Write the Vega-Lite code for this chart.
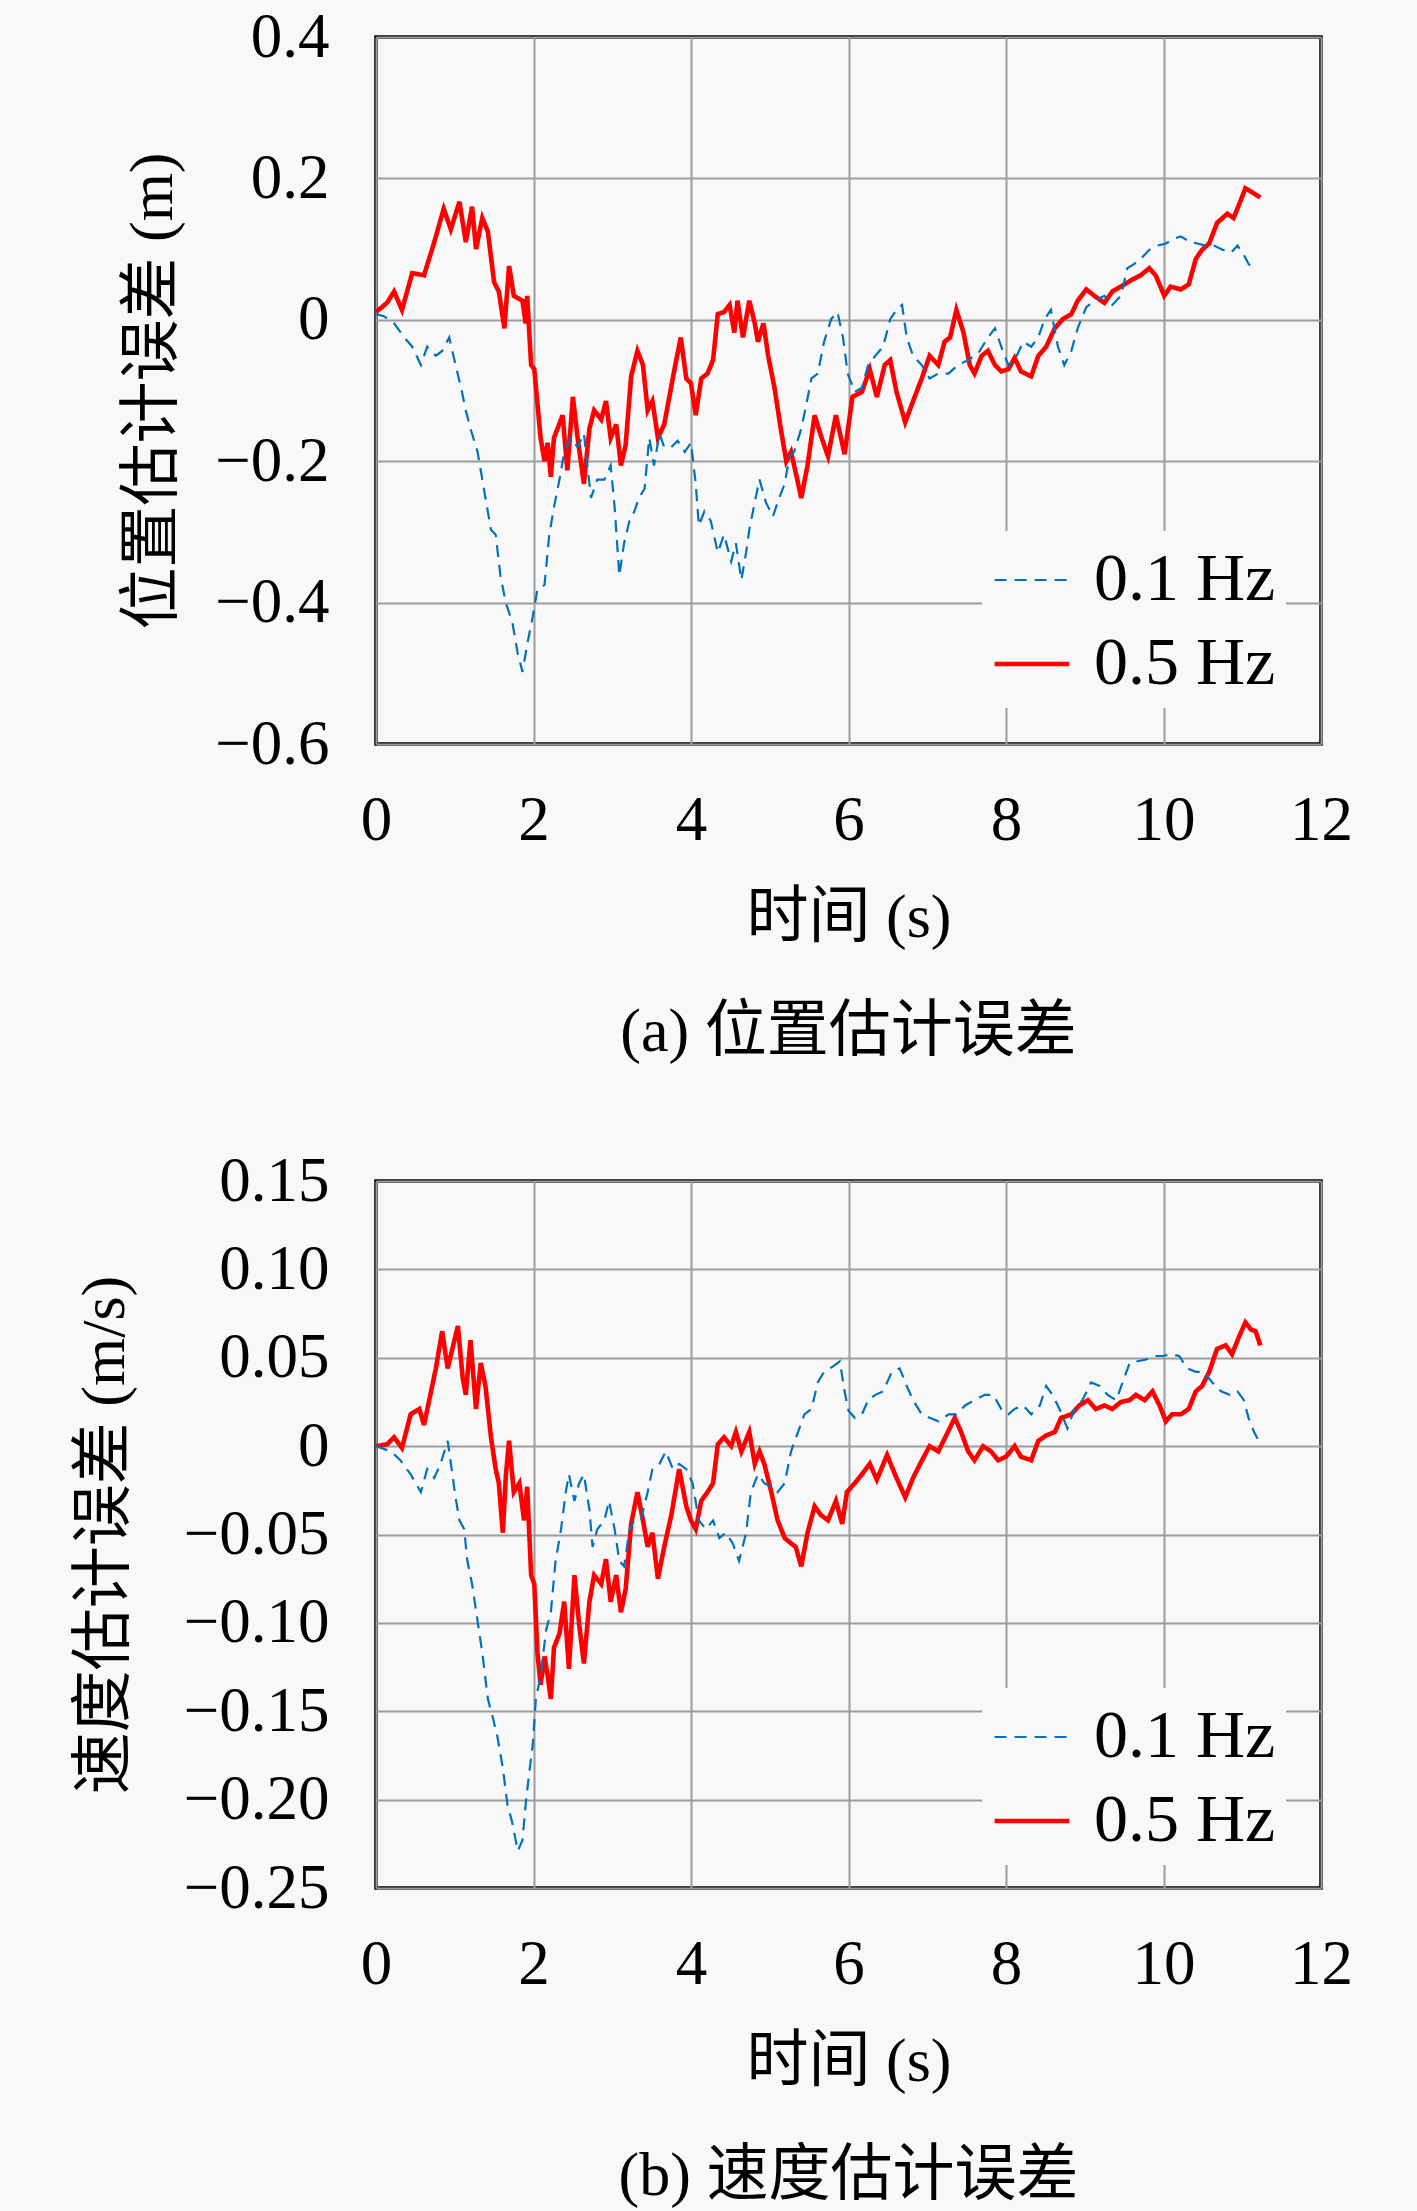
{
  "$schema": "https://vega.github.io/schema/vega-lite/v6.json",
  "background": "#f8f8f8",
  "padding": {"left": 71, "top": 4, "right": 66, "bottom": 8},
  "spacing": 437,
  "bounds": "flush",
  "config": {
    "view": {"stroke": "black", "strokeWidth": 3.5, "fill": "#f8f8f8"},
    "axis": {
      "grid": true, "gridColor": "#9c9c9c", "gridWidth": 2,
      "domain": false, "ticks": false, "labelFlush": false,
      "labelFont": "Liberation Serif", "labelFontSize": 63, "labelColor": "black",
      "titleFont": "Liberation Serif, Noto Sans CJK SC", "titleFontSize": 62,
      "titleFontWeight": "normal", "titleColor": "black"
    },
    "title": {"font": "Liberation Serif, Noto Sans CJK SC", "fontSize": 62, "fontWeight": "normal", "color": "black"},
    "legend": {
      "title": null, "orient": "none", "fillColor": "#f8f8f8",
      "symbolType": "stroke", "symbolSize": 5600, "labelFont": "Liberation Serif",
      "labelFontSize": 68, "labelColor": "black", "labelOffset": 22, "labelLimit": 400,
      "rowPadding": 10, "padding": 10
    }
  },
  "datasets": {
    "pos": [
      {"series": "0.5 Hz", "t": 0, "err": 0.011}, {"series": "0.5 Hz", "t": 0.14, "err": 0.024}, {"series": "0.5 Hz", "t": 0.23, "err": 0.04}, {"series": "0.5 Hz", "t": 0.33, "err": 0.014},
      {"series": "0.5 Hz", "t": 0.46, "err": 0.066}, {"series": "0.5 Hz", "t": 0.61, "err": 0.063}, {"series": "0.5 Hz", "t": 0.74, "err": 0.11}, {"series": "0.5 Hz", "t": 0.86, "err": 0.157},
      {"series": "0.5 Hz", "t": 0.95, "err": 0.128}, {"series": "0.5 Hz", "t": 1.06, "err": 0.167}, {"series": "0.5 Hz", "t": 1.14, "err": 0.11}, {"series": "0.5 Hz", "t": 1.22, "err": 0.16},
      {"series": "0.5 Hz", "t": 1.27, "err": 0.1}, {"series": "0.5 Hz", "t": 1.35, "err": 0.144}, {"series": "0.5 Hz", "t": 1.42, "err": 0.125}, {"series": "0.5 Hz", "t": 1.5, "err": 0.053},
      {"series": "0.5 Hz", "t": 1.56, "err": 0.04}, {"series": "0.5 Hz", "t": 1.63, "err": -0.012}, {"series": "0.5 Hz", "t": 1.69, "err": 0.076}, {"series": "0.5 Hz", "t": 1.75, "err": 0.034},
      {"series": "0.5 Hz", "t": 1.86, "err": 0.027}, {"series": "0.5 Hz", "t": 1.9, "err": -0.005}, {"series": "0.5 Hz", "t": 1.92, "err": 0.034}, {"series": "0.5 Hz", "t": 1.97, "err": -0.064},
      {"series": "0.5 Hz", "t": 2.01, "err": -0.07}, {"series": "0.5 Hz", "t": 2.09, "err": -0.167}, {"series": "0.5 Hz", "t": 2.14, "err": -0.2}, {"series": "0.5 Hz", "t": 2.18, "err": -0.174},
      {"series": "0.5 Hz", "t": 2.22, "err": -0.222}, {"series": "0.5 Hz", "t": 2.26, "err": -0.167}, {"series": "0.5 Hz", "t": 2.37, "err": -0.135}, {"series": "0.5 Hz", "t": 2.43, "err": -0.213},
      {"series": "0.5 Hz", "t": 2.5, "err": -0.109}, {"series": "0.5 Hz", "t": 2.56, "err": -0.167}, {"series": "0.5 Hz", "t": 2.64, "err": -0.232}, {"series": "0.5 Hz", "t": 2.71, "err": -0.154},
      {"series": "0.5 Hz", "t": 2.77, "err": -0.128}, {"series": "0.5 Hz", "t": 2.86, "err": -0.141}, {"series": "0.5 Hz", "t": 2.92, "err": -0.115}, {"series": "0.5 Hz", "t": 2.98, "err": -0.167},
      {"series": "0.5 Hz", "t": 3.05, "err": -0.148}, {"series": "0.5 Hz", "t": 3.11, "err": -0.206}, {"series": "0.5 Hz", "t": 3.17, "err": -0.177}, {"series": "0.5 Hz", "t": 3.24, "err": -0.08},
      {"series": "0.5 Hz", "t": 3.32, "err": -0.044}, {"series": "0.5 Hz", "t": 3.39, "err": -0.064}, {"series": "0.5 Hz", "t": 3.45, "err": -0.128}, {"series": "0.5 Hz", "t": 3.51, "err": -0.115},
      {"series": "0.5 Hz", "t": 3.58, "err": -0.167}, {"series": "0.5 Hz", "t": 3.66, "err": -0.148}, {"series": "0.5 Hz", "t": 3.79, "err": -0.07}, {"series": "0.5 Hz", "t": 3.87, "err": -0.025},
      {"series": "0.5 Hz", "t": 3.94, "err": -0.083}, {"series": "0.5 Hz", "t": 4.0, "err": -0.09}, {"series": "0.5 Hz", "t": 4.06, "err": -0.135}, {"series": "0.5 Hz", "t": 4.13, "err": -0.083},
      {"series": "0.5 Hz", "t": 4.21, "err": -0.076}, {"series": "0.5 Hz", "t": 4.28, "err": -0.057}, {"series": "0.5 Hz", "t": 4.34, "err": 0.008}, {"series": "0.5 Hz", "t": 4.42, "err": 0.011},
      {"series": "0.5 Hz", "t": 4.49, "err": 0.021}, {"series": "0.5 Hz", "t": 4.55, "err": -0.018}, {"series": "0.5 Hz", "t": 4.59, "err": 0.027}, {"series": "0.5 Hz", "t": 4.66, "err": -0.025},
      {"series": "0.5 Hz", "t": 4.74, "err": 0.027}, {"series": "0.5 Hz", "t": 4.81, "err": -0.005}, {"series": "0.5 Hz", "t": 4.85, "err": -0.031}, {"series": "0.5 Hz", "t": 4.92, "err": -0.005},
      {"series": "0.5 Hz", "t": 4.98, "err": -0.051}, {"series": "0.5 Hz", "t": 5.06, "err": -0.096}, {"series": "0.5 Hz", "t": 5.14, "err": -0.154}, {"series": "0.5 Hz", "t": 5.21, "err": -0.2},
      {"series": "0.5 Hz", "t": 5.27, "err": -0.187}, {"series": "0.5 Hz", "t": 5.33, "err": -0.216}, {"series": "0.5 Hz", "t": 5.4, "err": -0.252}, {"series": "0.5 Hz", "t": 5.48, "err": -0.206},
      {"series": "0.5 Hz", "t": 5.57, "err": -0.135}, {"series": "0.5 Hz", "t": 5.65, "err": -0.164}, {"series": "0.5 Hz", "t": 5.74, "err": -0.193}, {"series": "0.5 Hz", "t": 5.84, "err": -0.135},
      {"series": "0.5 Hz", "t": 5.95, "err": -0.19}, {"series": "0.5 Hz", "t": 6.05, "err": -0.109}, {"series": "0.5 Hz", "t": 6.17, "err": -0.102}, {"series": "0.5 Hz", "t": 6.27, "err": -0.07},
      {"series": "0.5 Hz", "t": 6.36, "err": -0.109}, {"series": "0.5 Hz", "t": 6.46, "err": -0.064}, {"series": "0.5 Hz", "t": 6.53, "err": -0.057}, {"series": "0.5 Hz", "t": 6.61, "err": -0.102},
      {"series": "0.5 Hz", "t": 6.72, "err": -0.145}, {"series": "0.5 Hz", "t": 6.82, "err": -0.115}, {"series": "0.5 Hz", "t": 6.93, "err": -0.083}, {"series": "0.5 Hz", "t": 7.03, "err": -0.051},
      {"series": "0.5 Hz", "t": 7.14, "err": -0.064}, {"series": "0.5 Hz", "t": 7.22, "err": -0.031}, {"series": "0.5 Hz", "t": 7.29, "err": -0.025}, {"series": "0.5 Hz", "t": 7.37, "err": 0.014},
      {"series": "0.5 Hz", "t": 7.46, "err": -0.018}, {"series": "0.5 Hz", "t": 7.54, "err": -0.064}, {"series": "0.5 Hz", "t": 7.6, "err": -0.076}, {"series": "0.5 Hz", "t": 7.69, "err": -0.051},
      {"series": "0.5 Hz", "t": 7.77, "err": -0.044}, {"series": "0.5 Hz", "t": 7.86, "err": -0.064}, {"series": "0.5 Hz", "t": 7.94, "err": -0.073}, {"series": "0.5 Hz", "t": 8.03, "err": -0.07},
      {"series": "0.5 Hz", "t": 8.11, "err": -0.054}, {"series": "0.5 Hz", "t": 8.19, "err": -0.073}, {"series": "0.5 Hz", "t": 8.32, "err": -0.08}, {"series": "0.5 Hz", "t": 8.41, "err": -0.051},
      {"series": "0.5 Hz", "t": 8.51, "err": -0.038}, {"series": "0.5 Hz", "t": 8.62, "err": -0.012}, {"series": "0.5 Hz", "t": 8.72, "err": 0.001}, {"series": "0.5 Hz", "t": 8.83, "err": 0.008},
      {"series": "0.5 Hz", "t": 8.91, "err": 0.027}, {"series": "0.5 Hz", "t": 9.02, "err": 0.043}, {"series": "0.5 Hz", "t": 9.12, "err": 0.034}, {"series": "0.5 Hz", "t": 9.25, "err": 0.024},
      {"series": "0.5 Hz", "t": 9.35, "err": 0.04}, {"series": "0.5 Hz", "t": 9.46, "err": 0.047}, {"series": "0.5 Hz", "t": 9.59, "err": 0.056}, {"series": "0.5 Hz", "t": 9.71, "err": 0.063},
      {"series": "0.5 Hz", "t": 9.82, "err": 0.073}, {"series": "0.5 Hz", "t": 9.9, "err": 0.063}, {"series": "0.5 Hz", "t": 10.01, "err": 0.034}, {"series": "0.5 Hz", "t": 10.09, "err": 0.047},
      {"series": "0.5 Hz", "t": 10.22, "err": 0.043}, {"series": "0.5 Hz", "t": 10.32, "err": 0.05}, {"series": "0.5 Hz", "t": 10.41, "err": 0.086}, {"series": "0.5 Hz", "t": 10.49, "err": 0.099},
      {"series": "0.5 Hz", "t": 10.58, "err": 0.108}, {"series": "0.5 Hz", "t": 10.68, "err": 0.137}, {"series": "0.5 Hz", "t": 10.81, "err": 0.15}, {"series": "0.5 Hz", "t": 10.89, "err": 0.144},
      {"series": "0.5 Hz", "t": 10.96, "err": 0.163}, {"series": "0.5 Hz", "t": 11.04, "err": 0.186}, {"series": "0.5 Hz", "t": 11.13, "err": 0.18}, {"series": "0.5 Hz", "t": 11.23, "err": 0.173},
      {"series": "0.1 Hz", "t": 0, "err": 0.008}, {"series": "0.1 Hz", "t": 0.1, "err": 0.005}, {"series": "0.1 Hz", "t": 0.23, "err": -0.005}, {"series": "0.1 Hz", "t": 0.36, "err": -0.025},
      {"series": "0.1 Hz", "t": 0.46, "err": -0.038}, {"series": "0.1 Hz", "t": 0.57, "err": -0.064}, {"series": "0.1 Hz", "t": 0.65, "err": -0.038}, {"series": "0.1 Hz", "t": 0.76, "err": -0.051},
      {"series": "0.1 Hz", "t": 0.84, "err": -0.044}, {"series": "0.1 Hz", "t": 0.93, "err": -0.025}, {"series": "0.1 Hz", "t": 1.01, "err": -0.064}, {"series": "0.1 Hz", "t": 1.08, "err": -0.096},
      {"series": "0.1 Hz", "t": 1.14, "err": -0.128}, {"series": "0.1 Hz", "t": 1.2, "err": -0.154}, {"series": "0.1 Hz", "t": 1.29, "err": -0.187}, {"series": "0.1 Hz", "t": 1.35, "err": -0.226},
      {"series": "0.1 Hz", "t": 1.39, "err": -0.252}, {"series": "0.1 Hz", "t": 1.46, "err": -0.297}, {"series": "0.1 Hz", "t": 1.52, "err": -0.304}, {"series": "0.1 Hz", "t": 1.58, "err": -0.362},
      {"series": "0.1 Hz", "t": 1.65, "err": -0.401}, {"series": "0.1 Hz", "t": 1.73, "err": -0.427}, {"series": "0.1 Hz", "t": 1.8, "err": -0.472}, {"series": "0.1 Hz", "t": 1.86, "err": -0.498},
      {"series": "0.1 Hz", "t": 1.92, "err": -0.459}, {"series": "0.1 Hz", "t": 1.99, "err": -0.42}, {"series": "0.1 Hz", "t": 2.05, "err": -0.381}, {"series": "0.1 Hz", "t": 2.14, "err": -0.375},
      {"series": "0.1 Hz", "t": 2.2, "err": -0.304}, {"series": "0.1 Hz", "t": 2.26, "err": -0.265}, {"series": "0.1 Hz", "t": 2.33, "err": -0.226}, {"series": "0.1 Hz", "t": 2.39, "err": -0.187},
      {"series": "0.1 Hz", "t": 2.47, "err": -0.167}, {"series": "0.1 Hz", "t": 2.56, "err": -0.18}, {"series": "0.1 Hz", "t": 2.64, "err": -0.161}, {"series": "0.1 Hz", "t": 2.73, "err": -0.252},
      {"series": "0.1 Hz", "t": 2.81, "err": -0.226}, {"series": "0.1 Hz", "t": 2.9, "err": -0.226}, {"series": "0.1 Hz", "t": 2.98, "err": -0.206}, {"series": "0.1 Hz", "t": 3.03, "err": -0.265},
      {"series": "0.1 Hz", "t": 3.09, "err": -0.362}, {"series": "0.1 Hz", "t": 3.15, "err": -0.316}, {"series": "0.1 Hz", "t": 3.22, "err": -0.284}, {"series": "0.1 Hz", "t": 3.28, "err": -0.271},
      {"series": "0.1 Hz", "t": 3.34, "err": -0.252}, {"series": "0.1 Hz", "t": 3.41, "err": -0.239}, {"series": "0.1 Hz", "t": 3.47, "err": -0.167}, {"series": "0.1 Hz", "t": 3.53, "err": -0.206},
      {"series": "0.1 Hz", "t": 3.6, "err": -0.161}, {"series": "0.1 Hz", "t": 3.66, "err": -0.18}, {"series": "0.1 Hz", "t": 3.75, "err": -0.18}, {"series": "0.1 Hz", "t": 3.83, "err": -0.171},
      {"series": "0.1 Hz", "t": 3.92, "err": -0.187}, {"series": "0.1 Hz", "t": 4.0, "err": -0.174}, {"series": "0.1 Hz", "t": 4.06, "err": -0.232}, {"series": "0.1 Hz", "t": 4.1, "err": -0.291},
      {"series": "0.1 Hz", "t": 4.17, "err": -0.271}, {"series": "0.1 Hz", "t": 4.25, "err": -0.284}, {"series": "0.1 Hz", "t": 4.34, "err": -0.329}, {"series": "0.1 Hz", "t": 4.42, "err": -0.304},
      {"series": "0.1 Hz", "t": 4.51, "err": -0.342}, {"series": "0.1 Hz", "t": 4.57, "err": -0.316}, {"series": "0.1 Hz", "t": 4.64, "err": -0.368}, {"series": "0.1 Hz", "t": 4.7, "err": -0.329},
      {"series": "0.1 Hz", "t": 4.74, "err": -0.297}, {"series": "0.1 Hz", "t": 4.81, "err": -0.258}, {"series": "0.1 Hz", "t": 4.87, "err": -0.226}, {"series": "0.1 Hz", "t": 4.95, "err": -0.258},
      {"series": "0.1 Hz", "t": 5.04, "err": -0.278}, {"series": "0.1 Hz", "t": 5.12, "err": -0.252}, {"series": "0.1 Hz", "t": 5.19, "err": -0.232}, {"series": "0.1 Hz", "t": 5.25, "err": -0.193},
      {"series": "0.1 Hz", "t": 5.31, "err": -0.187}, {"series": "0.1 Hz", "t": 5.4, "err": -0.154}, {"series": "0.1 Hz", "t": 5.46, "err": -0.122}, {"series": "0.1 Hz", "t": 5.53, "err": -0.083},
      {"series": "0.1 Hz", "t": 5.61, "err": -0.076}, {"series": "0.1 Hz", "t": 5.69, "err": -0.031}, {"series": "0.1 Hz", "t": 5.78, "err": 0.001}, {"series": "0.1 Hz", "t": 5.86, "err": 0.011},
      {"series": "0.1 Hz", "t": 5.93, "err": -0.025}, {"series": "0.1 Hz", "t": 5.99, "err": -0.076}, {"series": "0.1 Hz", "t": 6.08, "err": -0.102}, {"series": "0.1 Hz", "t": 6.17, "err": -0.096},
      {"series": "0.1 Hz", "t": 6.25, "err": -0.064}, {"series": "0.1 Hz", "t": 6.34, "err": -0.051}, {"series": "0.1 Hz", "t": 6.44, "err": -0.038}, {"series": "0.1 Hz", "t": 6.53, "err": 0.001},
      {"series": "0.1 Hz", "t": 6.61, "err": 0.014}, {"series": "0.1 Hz", "t": 6.68, "err": 0.021}, {"series": "0.1 Hz", "t": 6.74, "err": -0.025}, {"series": "0.1 Hz", "t": 6.82, "err": -0.051},
      {"series": "0.1 Hz", "t": 6.93, "err": -0.064}, {"series": "0.1 Hz", "t": 7.03, "err": -0.083}, {"series": "0.1 Hz", "t": 7.14, "err": -0.076}, {"series": "0.1 Hz", "t": 7.27, "err": -0.076},
      {"series": "0.1 Hz", "t": 7.39, "err": -0.064}, {"series": "0.1 Hz", "t": 7.52, "err": -0.057}, {"series": "0.1 Hz", "t": 7.65, "err": -0.047}, {"series": "0.1 Hz", "t": 7.77, "err": -0.025},
      {"series": "0.1 Hz", "t": 7.86, "err": -0.012}, {"series": "0.1 Hz", "t": 7.94, "err": -0.038}, {"series": "0.1 Hz", "t": 8.03, "err": -0.064}, {"series": "0.1 Hz", "t": 8.11, "err": -0.057},
      {"series": "0.1 Hz", "t": 8.22, "err": -0.031}, {"series": "0.1 Hz", "t": 8.32, "err": -0.038}, {"series": "0.1 Hz", "t": 8.41, "err": -0.025}, {"series": "0.1 Hz", "t": 8.49, "err": 0.001},
      {"series": "0.1 Hz", "t": 8.57, "err": 0.014}, {"series": "0.1 Hz", "t": 8.66, "err": -0.038}, {"series": "0.1 Hz", "t": 8.74, "err": -0.064}, {"series": "0.1 Hz", "t": 8.83, "err": -0.044},
      {"series": "0.1 Hz", "t": 8.91, "err": -0.012}, {"series": "0.1 Hz", "t": 9.02, "err": 0.018}, {"series": "0.1 Hz", "t": 9.12, "err": 0.027}, {"series": "0.1 Hz", "t": 9.25, "err": 0.034},
      {"series": "0.1 Hz", "t": 9.35, "err": 0.021}, {"series": "0.1 Hz", "t": 9.46, "err": 0.034}, {"series": "0.1 Hz", "t": 9.54, "err": 0.073}, {"series": "0.1 Hz", "t": 9.63, "err": 0.079},
      {"series": "0.1 Hz", "t": 9.71, "err": 0.086}, {"series": "0.1 Hz", "t": 9.82, "err": 0.099}, {"series": "0.1 Hz", "t": 9.92, "err": 0.105}, {"series": "0.1 Hz", "t": 10.03, "err": 0.108},
      {"series": "0.1 Hz", "t": 10.14, "err": 0.115}, {"series": "0.1 Hz", "t": 10.22, "err": 0.118}, {"series": "0.1 Hz", "t": 10.32, "err": 0.111}, {"series": "0.1 Hz", "t": 10.43, "err": 0.108},
      {"series": "0.1 Hz", "t": 10.53, "err": 0.105}, {"series": "0.1 Hz", "t": 10.64, "err": 0.105}, {"series": "0.1 Hz", "t": 10.75, "err": 0.099}, {"series": "0.1 Hz", "t": 10.86, "err": 0.095},
      {"series": "0.1 Hz", "t": 10.94, "err": 0.105}, {"series": "0.1 Hz", "t": 11.02, "err": 0.092}, {"series": "0.1 Hz", "t": 11.08, "err": 0.079}, {"series": "0.1 Hz", "t": 11.17, "err": 0.069}
    ],
    "vel": [
      {"series": "0.5 Hz", "t": 0, "err": 0}, {"series": "0.5 Hz", "t": 0.14, "err": 0.001}, {"series": "0.5 Hz", "t": 0.23, "err": 0.005}, {"series": "0.5 Hz", "t": 0.33, "err": -0.001},
      {"series": "0.5 Hz", "t": 0.44, "err": 0.018}, {"series": "0.5 Hz", "t": 0.55, "err": 0.021}, {"series": "0.5 Hz", "t": 0.61, "err": 0.012}, {"series": "0.5 Hz", "t": 0.69, "err": 0.029},
      {"series": "0.5 Hz", "t": 0.76, "err": 0.044}, {"series": "0.5 Hz", "t": 0.84, "err": 0.065}, {"series": "0.5 Hz", "t": 0.91, "err": 0.044}, {"series": "0.5 Hz", "t": 0.97, "err": 0.055},
      {"series": "0.5 Hz", "t": 1.04, "err": 0.068}, {"series": "0.5 Hz", "t": 1.1, "err": 0.039}, {"series": "0.5 Hz", "t": 1.14, "err": 0.029}, {"series": "0.5 Hz", "t": 1.2, "err": 0.06},
      {"series": "0.5 Hz", "t": 1.27, "err": 0.021}, {"series": "0.5 Hz", "t": 1.33, "err": 0.047}, {"series": "0.5 Hz", "t": 1.39, "err": 0.034}, {"series": "0.5 Hz", "t": 1.46, "err": 0.005},
      {"series": "0.5 Hz", "t": 1.52, "err": -0.013}, {"series": "0.5 Hz", "t": 1.56, "err": -0.021}, {"series": "0.5 Hz", "t": 1.61, "err": -0.049}, {"series": "0.5 Hz", "t": 1.65, "err": -0.016},
      {"series": "0.5 Hz", "t": 1.69, "err": 0.003}, {"series": "0.5 Hz", "t": 1.75, "err": -0.026}, {"series": "0.5 Hz", "t": 1.82, "err": -0.021}, {"series": "0.5 Hz", "t": 1.88, "err": -0.042},
      {"series": "0.5 Hz", "t": 1.92, "err": -0.023}, {"series": "0.5 Hz", "t": 1.97, "err": -0.073}, {"series": "0.5 Hz", "t": 2.01, "err": -0.078}, {"series": "0.5 Hz", "t": 2.05, "err": -0.117},
      {"series": "0.5 Hz", "t": 2.09, "err": -0.135}, {"series": "0.5 Hz", "t": 2.14, "err": -0.119}, {"series": "0.5 Hz", "t": 2.18, "err": -0.13}, {"series": "0.5 Hz", "t": 2.22, "err": -0.143},
      {"series": "0.5 Hz", "t": 2.26, "err": -0.114}, {"series": "0.5 Hz", "t": 2.33, "err": -0.106}, {"series": "0.5 Hz", "t": 2.39, "err": -0.088}, {"series": "0.5 Hz", "t": 2.45, "err": -0.126},
      {"series": "0.5 Hz", "t": 2.52, "err": -0.073}, {"series": "0.5 Hz", "t": 2.58, "err": -0.101}, {"series": "0.5 Hz", "t": 2.64, "err": -0.123}, {"series": "0.5 Hz", "t": 2.71, "err": -0.088},
      {"series": "0.5 Hz", "t": 2.77, "err": -0.073}, {"series": "0.5 Hz", "t": 2.86, "err": -0.078}, {"series": "0.5 Hz", "t": 2.92, "err": -0.064}, {"series": "0.5 Hz", "t": 2.98, "err": -0.088},
      {"series": "0.5 Hz", "t": 3.05, "err": -0.073}, {"series": "0.5 Hz", "t": 3.11, "err": -0.094}, {"series": "0.5 Hz", "t": 3.17, "err": -0.081}, {"series": "0.5 Hz", "t": 3.24, "err": -0.044},
      {"series": "0.5 Hz", "t": 3.32, "err": -0.026}, {"series": "0.5 Hz", "t": 3.39, "err": -0.042}, {"series": "0.5 Hz", "t": 3.45, "err": -0.057}, {"series": "0.5 Hz", "t": 3.51, "err": -0.049},
      {"series": "0.5 Hz", "t": 3.58, "err": -0.075}, {"series": "0.5 Hz", "t": 3.66, "err": -0.057}, {"series": "0.5 Hz", "t": 3.75, "err": -0.039}, {"series": "0.5 Hz", "t": 3.85, "err": -0.013},
      {"series": "0.5 Hz", "t": 3.94, "err": -0.034}, {"series": "0.5 Hz", "t": 4.0, "err": -0.042}, {"series": "0.5 Hz", "t": 4.06, "err": -0.047}, {"series": "0.5 Hz", "t": 4.13, "err": -0.031},
      {"series": "0.5 Hz", "t": 4.21, "err": -0.026}, {"series": "0.5 Hz", "t": 4.28, "err": -0.021}, {"series": "0.5 Hz", "t": 4.34, "err": 0.001}, {"series": "0.5 Hz", "t": 4.42, "err": 0.005},
      {"series": "0.5 Hz", "t": 4.51, "err": 0}, {"series": "0.5 Hz", "t": 4.57, "err": 0.008}, {"series": "0.5 Hz", "t": 4.64, "err": -0.003}, {"series": "0.5 Hz", "t": 4.74, "err": 0.008},
      {"series": "0.5 Hz", "t": 4.81, "err": -0.01}, {"series": "0.5 Hz", "t": 4.87, "err": -0.003}, {"series": "0.5 Hz", "t": 4.93, "err": -0.01}, {"series": "0.5 Hz", "t": 5.02, "err": -0.026},
      {"series": "0.5 Hz", "t": 5.1, "err": -0.042}, {"series": "0.5 Hz", "t": 5.19, "err": -0.052}, {"series": "0.5 Hz", "t": 5.27, "err": -0.055}, {"series": "0.5 Hz", "t": 5.33, "err": -0.057},
      {"series": "0.5 Hz", "t": 5.4, "err": -0.068}, {"series": "0.5 Hz", "t": 5.48, "err": -0.049}, {"series": "0.5 Hz", "t": 5.57, "err": -0.034}, {"series": "0.5 Hz", "t": 5.65, "err": -0.039},
      {"series": "0.5 Hz", "t": 5.74, "err": -0.042}, {"series": "0.5 Hz", "t": 5.84, "err": -0.031}, {"series": "0.5 Hz", "t": 5.92, "err": -0.044}, {"series": "0.5 Hz", "t": 5.98, "err": -0.026},
      {"series": "0.5 Hz", "t": 6.08, "err": -0.021}, {"series": "0.5 Hz", "t": 6.17, "err": -0.016}, {"series": "0.5 Hz", "t": 6.27, "err": -0.01}, {"series": "0.5 Hz", "t": 6.36, "err": -0.019},
      {"series": "0.5 Hz", "t": 6.49, "err": -0.005}, {"series": "0.5 Hz", "t": 6.59, "err": -0.016}, {"series": "0.5 Hz", "t": 6.72, "err": -0.029}, {"series": "0.5 Hz", "t": 6.82, "err": -0.018},
      {"series": "0.5 Hz", "t": 6.91, "err": -0.01}, {"series": "0.5 Hz", "t": 7.03, "err": 0}, {"series": "0.5 Hz", "t": 7.14, "err": -0.003}, {"series": "0.5 Hz", "t": 7.24, "err": 0.006},
      {"series": "0.5 Hz", "t": 7.35, "err": 0.016}, {"series": "0.5 Hz", "t": 7.43, "err": 0.008}, {"series": "0.5 Hz", "t": 7.52, "err": -0.003}, {"series": "0.5 Hz", "t": 7.6, "err": -0.008},
      {"series": "0.5 Hz", "t": 7.71, "err": 0}, {"series": "0.5 Hz", "t": 7.81, "err": -0.003}, {"series": "0.5 Hz", "t": 7.9, "err": -0.008}, {"series": "0.5 Hz", "t": 8.0, "err": -0.006},
      {"series": "0.5 Hz", "t": 8.11, "err": 0}, {"series": "0.5 Hz", "t": 8.19, "err": -0.006}, {"series": "0.5 Hz", "t": 8.32, "err": -0.008}, {"series": "0.5 Hz", "t": 8.41, "err": 0.003},
      {"series": "0.5 Hz", "t": 8.51, "err": 0.006}, {"series": "0.5 Hz", "t": 8.62, "err": 0.008}, {"series": "0.5 Hz", "t": 8.7, "err": 0.016}, {"series": "0.5 Hz", "t": 8.83, "err": 0.018},
      {"series": "0.5 Hz", "t": 8.93, "err": 0.023}, {"series": "0.5 Hz", "t": 9.04, "err": 0.026}, {"series": "0.5 Hz", "t": 9.14, "err": 0.021}, {"series": "0.5 Hz", "t": 9.25, "err": 0.023},
      {"series": "0.5 Hz", "t": 9.35, "err": 0.021}, {"series": "0.5 Hz", "t": 9.46, "err": 0.025}, {"series": "0.5 Hz", "t": 9.57, "err": 0.026}, {"series": "0.5 Hz", "t": 9.65, "err": 0.029},
      {"series": "0.5 Hz", "t": 9.76, "err": 0.026}, {"series": "0.5 Hz", "t": 9.86, "err": 0.031}, {"series": "0.5 Hz", "t": 9.95, "err": 0.023}, {"series": "0.5 Hz", "t": 10.03, "err": 0.014},
      {"series": "0.5 Hz", "t": 10.11, "err": 0.018}, {"series": "0.5 Hz", "t": 10.22, "err": 0.018}, {"series": "0.5 Hz", "t": 10.32, "err": 0.021}, {"series": "0.5 Hz", "t": 10.41, "err": 0.031},
      {"series": "0.5 Hz", "t": 10.49, "err": 0.034}, {"series": "0.5 Hz", "t": 10.58, "err": 0.042}, {"series": "0.5 Hz", "t": 10.68, "err": 0.055}, {"series": "0.5 Hz", "t": 10.79, "err": 0.057},
      {"series": "0.5 Hz", "t": 10.87, "err": 0.052}, {"series": "0.5 Hz", "t": 10.96, "err": 0.062}, {"series": "0.5 Hz", "t": 11.04, "err": 0.07}, {"series": "0.5 Hz", "t": 11.11, "err": 0.066},
      {"series": "0.5 Hz", "t": 11.17, "err": 0.065}, {"series": "0.5 Hz", "t": 11.23, "err": 0.057},
      {"series": "0.1 Hz", "t": 0, "err": 0}, {"series": "0.1 Hz", "t": 0.19, "err": -0.003}, {"series": "0.1 Hz", "t": 0.31, "err": -0.008}, {"series": "0.1 Hz", "t": 0.44, "err": -0.016},
      {"series": "0.1 Hz", "t": 0.57, "err": -0.026}, {"series": "0.1 Hz", "t": 0.65, "err": -0.013}, {"series": "0.1 Hz", "t": 0.74, "err": -0.018}, {"series": "0.1 Hz", "t": 0.82, "err": -0.01},
      {"series": "0.1 Hz", "t": 0.91, "err": 0.003}, {"series": "0.1 Hz", "t": 0.97, "err": -0.016}, {"series": "0.1 Hz", "t": 1.01, "err": -0.029}, {"series": "0.1 Hz", "t": 1.06, "err": -0.042},
      {"series": "0.1 Hz", "t": 1.12, "err": -0.047}, {"series": "0.1 Hz", "t": 1.16, "err": -0.065}, {"series": "0.1 Hz", "t": 1.22, "err": -0.078}, {"series": "0.1 Hz", "t": 1.29, "err": -0.099},
      {"series": "0.1 Hz", "t": 1.35, "err": -0.117}, {"series": "0.1 Hz", "t": 1.42, "err": -0.143}, {"series": "0.1 Hz", "t": 1.48, "err": -0.153}, {"series": "0.1 Hz", "t": 1.54, "err": -0.164},
      {"series": "0.1 Hz", "t": 1.61, "err": -0.182}, {"series": "0.1 Hz", "t": 1.67, "err": -0.203}, {"series": "0.1 Hz", "t": 1.73, "err": -0.213}, {"series": "0.1 Hz", "t": 1.8, "err": -0.229},
      {"series": "0.1 Hz", "t": 1.86, "err": -0.223}, {"series": "0.1 Hz", "t": 1.9, "err": -0.203}, {"series": "0.1 Hz", "t": 1.94, "err": -0.187}, {"series": "0.1 Hz", "t": 1.99, "err": -0.169},
      {"series": "0.1 Hz", "t": 2.03, "err": -0.143}, {"series": "0.1 Hz", "t": 2.09, "err": -0.13}, {"series": "0.1 Hz", "t": 2.16, "err": -0.104}, {"series": "0.1 Hz", "t": 2.22, "err": -0.094},
      {"series": "0.1 Hz", "t": 2.28, "err": -0.065}, {"series": "0.1 Hz", "t": 2.35, "err": -0.047}, {"series": "0.1 Hz", "t": 2.41, "err": -0.026}, {"series": "0.1 Hz", "t": 2.45, "err": -0.016},
      {"series": "0.1 Hz", "t": 2.52, "err": -0.031}, {"series": "0.1 Hz", "t": 2.58, "err": -0.021}, {"series": "0.1 Hz", "t": 2.64, "err": -0.016}, {"series": "0.1 Hz", "t": 2.71, "err": -0.036},
      {"series": "0.1 Hz", "t": 2.75, "err": -0.057}, {"series": "0.1 Hz", "t": 2.81, "err": -0.047}, {"series": "0.1 Hz", "t": 2.9, "err": -0.042}, {"series": "0.1 Hz", "t": 2.96, "err": -0.031},
      {"series": "0.1 Hz", "t": 3.03, "err": -0.047}, {"series": "0.1 Hz", "t": 3.09, "err": -0.065}, {"series": "0.1 Hz", "t": 3.15, "err": -0.068}, {"series": "0.1 Hz", "t": 3.22, "err": -0.047},
      {"series": "0.1 Hz", "t": 3.28, "err": -0.042}, {"series": "0.1 Hz", "t": 3.36, "err": -0.042}, {"series": "0.1 Hz", "t": 3.45, "err": -0.026}, {"series": "0.1 Hz", "t": 3.51, "err": -0.013},
      {"series": "0.1 Hz", "t": 3.6, "err": -0.01}, {"series": "0.1 Hz", "t": 3.68, "err": -0.003}, {"series": "0.1 Hz", "t": 3.77, "err": -0.013}, {"series": "0.1 Hz", "t": 3.85, "err": -0.01},
      {"series": "0.1 Hz", "t": 3.94, "err": -0.013}, {"series": "0.1 Hz", "t": 4.02, "err": -0.021}, {"series": "0.1 Hz", "t": 4.1, "err": -0.042}, {"series": "0.1 Hz", "t": 4.19, "err": -0.047},
      {"series": "0.1 Hz", "t": 4.28, "err": -0.042}, {"series": "0.1 Hz", "t": 4.36, "err": -0.052}, {"series": "0.1 Hz", "t": 4.44, "err": -0.049}, {"series": "0.1 Hz", "t": 4.53, "err": -0.055},
      {"series": "0.1 Hz", "t": 4.61, "err": -0.065}, {"series": "0.1 Hz", "t": 4.7, "err": -0.049}, {"series": "0.1 Hz", "t": 4.76, "err": -0.026}, {"series": "0.1 Hz", "t": 4.85, "err": -0.016},
      {"series": "0.1 Hz", "t": 4.93, "err": -0.021}, {"series": "0.1 Hz", "t": 5.02, "err": -0.023}, {"series": "0.1 Hz", "t": 5.1, "err": -0.026}, {"series": "0.1 Hz", "t": 5.19, "err": -0.021},
      {"series": "0.1 Hz", "t": 5.27, "err": -0.003}, {"series": "0.1 Hz", "t": 5.36, "err": 0.008}, {"series": "0.1 Hz", "t": 5.44, "err": 0.018}, {"series": "0.1 Hz", "t": 5.53, "err": 0.021},
      {"series": "0.1 Hz", "t": 5.61, "err": 0.036}, {"series": "0.1 Hz", "t": 5.69, "err": 0.042}, {"series": "0.1 Hz", "t": 5.8, "err": 0.045}, {"series": "0.1 Hz", "t": 5.89, "err": 0.048},
      {"series": "0.1 Hz", "t": 5.95, "err": 0.031}, {"series": "0.1 Hz", "t": 6.0, "err": 0.02}, {"series": "0.1 Hz", "t": 6.08, "err": 0.016}, {"series": "0.1 Hz", "t": 6.17, "err": 0.018},
      {"series": "0.1 Hz", "t": 6.25, "err": 0.026}, {"series": "0.1 Hz", "t": 6.34, "err": 0.029}, {"series": "0.1 Hz", "t": 6.44, "err": 0.031}, {"series": "0.1 Hz", "t": 6.55, "err": 0.042},
      {"series": "0.1 Hz", "t": 6.65, "err": 0.044}, {"series": "0.1 Hz", "t": 6.74, "err": 0.034}, {"series": "0.1 Hz", "t": 6.82, "err": 0.026}, {"series": "0.1 Hz", "t": 6.93, "err": 0.018},
      {"series": "0.1 Hz", "t": 7.03, "err": 0.016}, {"series": "0.1 Hz", "t": 7.14, "err": 0.014}, {"series": "0.1 Hz", "t": 7.27, "err": 0.018}, {"series": "0.1 Hz", "t": 7.37, "err": 0.018},
      {"series": "0.1 Hz", "t": 7.48, "err": 0.023}, {"series": "0.1 Hz", "t": 7.6, "err": 0.026}, {"series": "0.1 Hz", "t": 7.73, "err": 0.029}, {"series": "0.1 Hz", "t": 7.84, "err": 0.029},
      {"series": "0.1 Hz", "t": 7.94, "err": 0.021}, {"series": "0.1 Hz", "t": 8.03, "err": 0.018}, {"series": "0.1 Hz", "t": 8.11, "err": 0.021}, {"series": "0.1 Hz", "t": 8.22, "err": 0.023},
      {"series": "0.1 Hz", "t": 8.32, "err": 0.018}, {"series": "0.1 Hz", "t": 8.43, "err": 0.023}, {"series": "0.1 Hz", "t": 8.51, "err": 0.034}, {"series": "0.1 Hz", "t": 8.59, "err": 0.029},
      {"series": "0.1 Hz", "t": 8.68, "err": 0.021}, {"series": "0.1 Hz", "t": 8.78, "err": 0.01}, {"series": "0.1 Hz", "t": 8.87, "err": 0.021}, {"series": "0.1 Hz", "t": 8.97, "err": 0.026},
      {"series": "0.1 Hz", "t": 9.08, "err": 0.036}, {"series": "0.1 Hz", "t": 9.19, "err": 0.034}, {"series": "0.1 Hz", "t": 9.29, "err": 0.029}, {"series": "0.1 Hz", "t": 9.4, "err": 0.026},
      {"series": "0.1 Hz", "t": 9.48, "err": 0.036}, {"series": "0.1 Hz", "t": 9.57, "err": 0.047}, {"series": "0.1 Hz", "t": 9.67, "err": 0.048}, {"series": "0.1 Hz", "t": 9.78, "err": 0.049},
      {"series": "0.1 Hz", "t": 9.88, "err": 0.051}, {"series": "0.1 Hz", "t": 9.99, "err": 0.051}, {"series": "0.1 Hz", "t": 10.09, "err": 0.052}, {"series": "0.1 Hz", "t": 10.2, "err": 0.051},
      {"series": "0.1 Hz", "t": 10.3, "err": 0.044}, {"series": "0.1 Hz", "t": 10.41, "err": 0.042}, {"series": "0.1 Hz", "t": 10.51, "err": 0.042}, {"series": "0.1 Hz", "t": 10.62, "err": 0.036},
      {"series": "0.1 Hz", "t": 10.73, "err": 0.031}, {"series": "0.1 Hz", "t": 10.84, "err": 0.029}, {"series": "0.1 Hz", "t": 10.94, "err": 0.031}, {"series": "0.1 Hz", "t": 11.02, "err": 0.026},
      {"series": "0.1 Hz", "t": 11.08, "err": 0.016}, {"series": "0.1 Hz", "t": 11.15, "err": 0.008}, {"series": "0.1 Hz", "t": 11.21, "err": 0.003}
    ]
  },
  "vconcat": [
    {
      "width": 945,
      "height": 707,
      "data": {"name": "pos"},
      "title": {"text": "(a) 位置估计误差", "orient": "bottom", "offset": 54},
      "mark": {"type": "line", "clip": true},
      "encoding": {
        "x": {
          "field": "t", "type": "quantitative",
          "scale": {"domain": [0, 12], "nice": false},
          "axis": {"values": [0, 2, 4, 6, 8, 10, 12], "title": "时间 (s)", "labelPadding": 45, "titlePadding": 35}
        },
        "y": {
          "field": "err", "type": "quantitative",
          "scale": {"domain": [-0.6, 0.4], "nice": false, "zero": false},
          "axis": {
            "values": [-0.6, -0.4, -0.2, 0, 0.2, 0.4],
            "labelExpr": "datum.value == 0 ? '0' : format(datum.value, '.1f')",
            "title": "位置估计误差 (m)", "labelPadding": 47, "titlePadding": 30
          }
        },
        "color": {
          "field": "series", "type": "nominal",
          "scale": {"domain": ["0.1 Hz", "0.5 Hz"], "range": ["#0072bd", "#ff0000"]},
          "legend": {"legendX": 606, "legendY": 494}
        },
        "strokeDash": {
          "field": "series", "type": "nominal",
          "scale": {"domain": ["0.1 Hz", "0.5 Hz"], "range": [[12, 8], [1, 0]]},
          "legend": {"legendX": 606, "legendY": 494}
        },
        "strokeWidth": {
          "field": "series", "type": "nominal",
          "scale": {"domain": ["0.1 Hz", "0.5 Hz"], "range": [2.2, 4.6]},
          "legend": {"legendX": 606, "legendY": 494}
        }
      }
    },
    {
      "width": 945,
      "height": 707,
      "data": {"name": "vel"},
      "title": {"text": "(b) 速度估计误差", "orient": "bottom", "offset": 54},
      "mark": {"type": "line", "clip": true},
      "encoding": {
        "x": {
          "field": "t", "type": "quantitative",
          "scale": {"domain": [0, 12], "nice": false},
          "axis": {"values": [0, 2, 4, 6, 8, 10, 12], "title": "时间 (s)", "labelPadding": 45, "titlePadding": 35}
        },
        "y": {
          "field": "err", "type": "quantitative",
          "scale": {"domain": [-0.25, 0.15], "nice": false, "zero": false},
          "axis": {
            "values": [-0.25, -0.2, -0.15, -0.1, -0.05, 0, 0.05, 0.1, 0.15],
            "labelExpr": "datum.value == 0 ? '0' : format(datum.value, '.2f')",
            "title": "速度估计误差 (m/s)", "labelPadding": 47, "titlePadding": 47
          }
        },
        "color": {
          "field": "series", "type": "nominal",
          "scale": {"domain": ["0.1 Hz", "0.5 Hz"], "range": ["#0072bd", "#ff0000"]},
          "legend": {"legendX": 606, "legendY": 507}
        },
        "strokeDash": {
          "field": "series", "type": "nominal",
          "scale": {"domain": ["0.1 Hz", "0.5 Hz"], "range": [[12, 8], [1, 0]]},
          "legend": {"legendX": 606, "legendY": 507}
        },
        "strokeWidth": {
          "field": "series", "type": "nominal",
          "scale": {"domain": ["0.1 Hz", "0.5 Hz"], "range": [2.2, 4.6]},
          "legend": {"legendX": 606, "legendY": 507}
        }
      }
    }
  ],
  "resolve": {"scale": {"color": "independent", "strokeDash": "independent", "strokeWidth": "independent"}, "legend": {"color": "independent", "strokeDash": "independent", "strokeWidth": "independent"}}
}
